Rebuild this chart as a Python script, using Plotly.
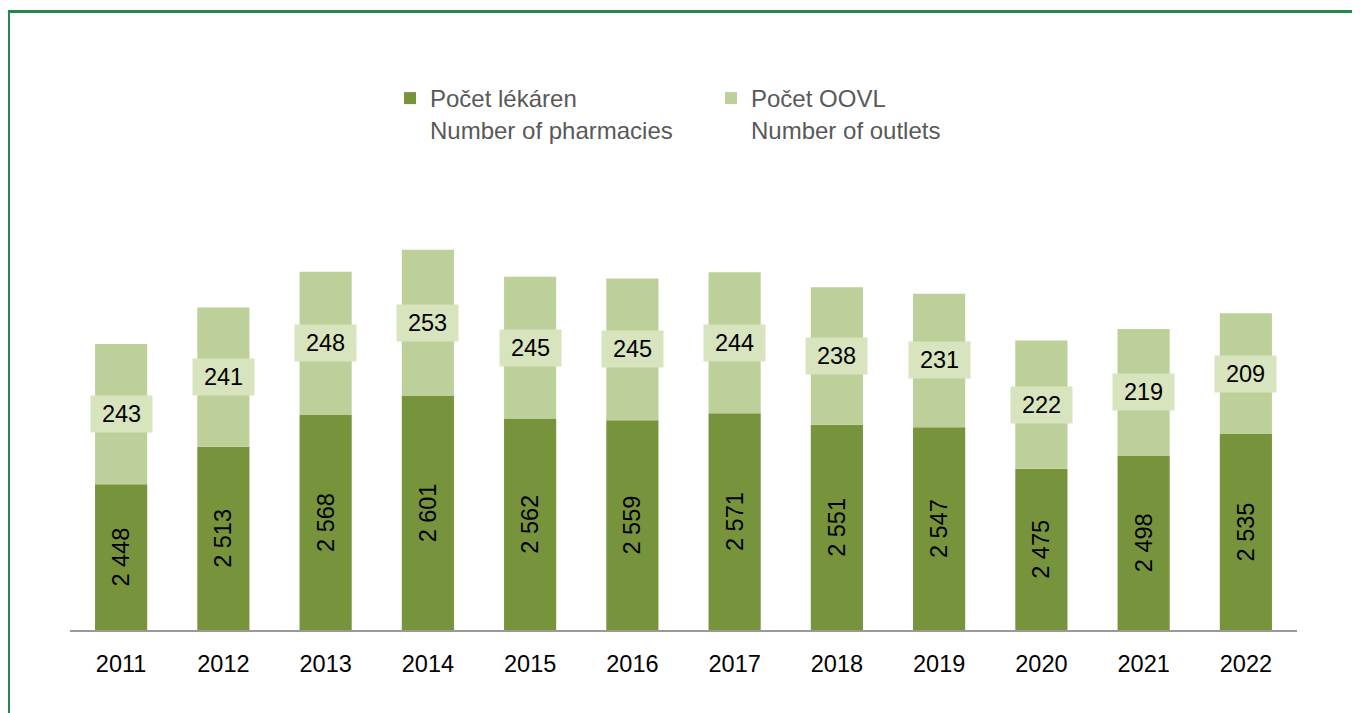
import plotly.graph_objects as go

years = ["2011", "2012", "2013", "2014", "2015", "2016", "2017", "2018", "2019", "2020", "2021", "2022"]
pharmacies = [2448, 2513, 2568, 2601, 2562, 2559, 2571, 2551, 2547, 2475, 2498, 2535]
outlets = [243, 241, 248, 253, 245, 245, 244, 238, 231, 222, 219, 209]

name_pharm = "Počet lékáren<br>Number of pharmacies"
name_outl = "Počet OOVL<br>Number of outlets"

AXIS_MIN = 2196
AXIS_MAX = 2940

DARK = "#77933C"
LIGHT = "#BDD09A"
BOX = "#D8E4BD"
FONT = "Liberation Sans, Arial, sans-serif"

W, H = 1352, 705
ML, MR, MT, MB = 62, 63, 192, 83
PW = W - ML - MR
PH = H - MT - MB


def fmt(v):
    return f"{v:,}".replace(",", " ")


def px_x(px):
    return (px - ML) / PW


def px_y(py):
    return 1 - (py - MT) / PH


fig = go.Figure()
fig.add_trace(go.Bar(
    x=years, y=[p - AXIS_MIN for p in pharmacies], base=AXIS_MIN,
    name=name_pharm, marker=dict(color=DARK, line=dict(width=0)),
    text=[fmt(p) for p in pharmacies], textposition="inside",
    insidetextanchor="middle", textangle=-90, constraintext="none",
    textfont=dict(family=FONT, size=23.5, color="black"),
    width=0.51,
))
fig.add_trace(go.Bar(
    x=years, y=outlets, base=pharmacies,
    name=name_outl, marker=dict(color=LIGHT, line=dict(width=0)),
    width=0.51,
))

annotations = []
for i, (p, o) in enumerate(zip(pharmacies, outlets)):
    annotations.append(dict(
        x=i, y=p + o / 2, xref="x", yref="y", text=str(o), showarrow=False,
        bgcolor=BOX, width=53, height=28, borderpad=4,
        font=dict(family=FONT, size=23.5, color="black"),
    ))

FRAME = "#23894C"
shapes = [
    dict(type="line", xref="paper", yref="paper",
         x0=px_x(0), x1=px_x(W + 40), y0=px_y(3.5), y1=px_y(3.5),
         line=dict(color=FRAME, width=3)),
    dict(type="line", xref="paper", yref="paper",
         x0=px_x(0.5), x1=px_x(0.5), y0=px_y(3.5), y1=px_y(H + 40),
         line=dict(color=FRAME, width=3)),
]

fig.update_layout(
    width=W, height=H,
    margin=dict(l=ML, r=MR, t=MT, b=MB),
    paper_bgcolor="white", plot_bgcolor="white",
    barmode="overlay",
    font=dict(family=FONT, size=23.5, color="black"),
    showlegend=True,
    legend=dict(
        orientation="h", x=px_x(382), xanchor="left",
        y=px_y(68), yanchor="top",
        valign="top", entrywidth=276, entrywidthmode="pixels",
        font=dict(family=FONT, size=24, color="#595959"),
        traceorder="normal", itemclick=False,
    ),
    xaxis=dict(type="category", range=[-0.5, len(years) - 0.5],
               showline=True, linecolor="#999999", linewidth=2,
               ticks="", showgrid=False, zeroline=False,
               tickfont=dict(family=FONT, size=23.5, color="black"),
               ticklabelstandoff=12),
    yaxis=dict(range=[AXIS_MIN, AXIS_MAX], visible=False, showgrid=False, zeroline=False),
    annotations=annotations,
    shapes=shapes,
)

fig.write_html("out.html")
